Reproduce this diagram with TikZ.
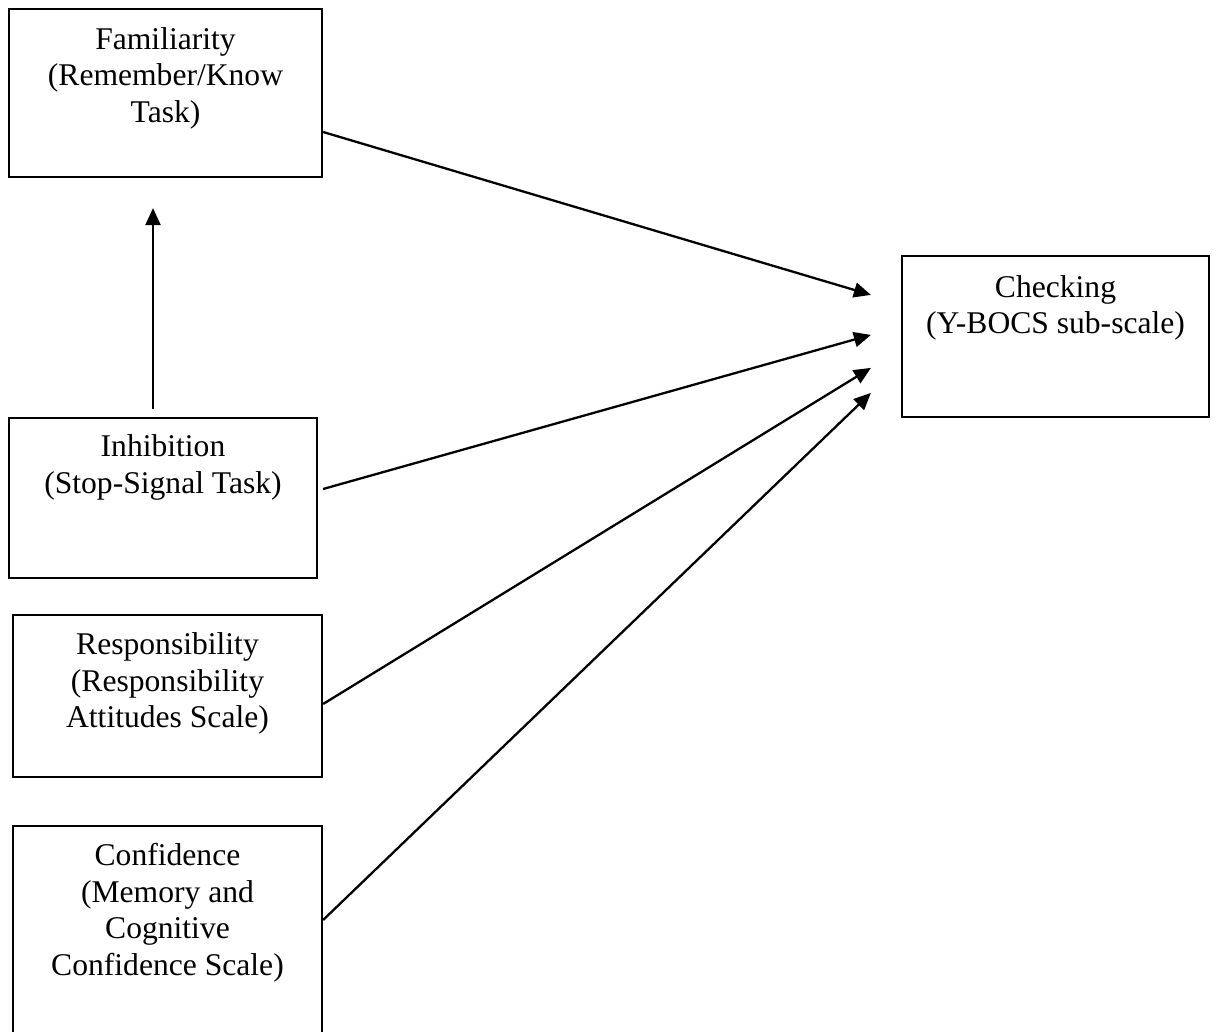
\documentclass[tikz,border=0pt]{standalone}
\usepackage{fontspec}
\setmainfont{Liberation Serif}
\usetikzlibrary{arrows.meta,calc}

\tikzset{
  box/.style={draw=black, line width=2.2pt, rectangle, inner sep=0pt, fill=none},
  boxtext/.style={anchor=north, align=center, inner sep=0pt,
    font=\fontsize{31.6}{36.5}\selectfont},
  link/.style={line width=2.3pt, -{Triangle[length=17pt,width=15pt]}}
}

\begin{document}
\begin{tikzpicture}[x=1pt,y=-1pt]
  \useasboundingbox (0,0) rectangle (1216,1032);
  \clip (0,0) rectangle (1216,1032);
  \fill[white] (0,0) rectangle (1216,1032);

  % boxes
  \node[box, minimum width=313pt, minimum height=168pt] (fam)  at (165.5,93)   {};
  \node[box, minimum width=307pt, minimum height=161pt] (chk)  at (1055.5,336.5) {};
  \node[box, minimum width=308pt, minimum height=160pt] (inh)  at (163,498)    {};
  \node[box, minimum width=309pt, minimum height=162pt] (resp) at (167.5,696)  {};
  \node[box, minimum width=309pt, minimum height=240pt] (conf) at (167.5,946)  {};

  % box texts
  \node[boxtext] (famtxt)  at ($(fam.north)+(0,19.4)$)  {Familiarity\\(Remember/Know\\Task)};
  \node[boxtext] (chktxt)  at ($(chk.north)+(0,20.4)$)  {Checking\\(Y-BOCS sub-scale)};
  \node[boxtext] (inhtxt)  at ($(inh.north)+(0,17.8)$)  {Inhibition\\(Stop-Signal Task)};
  \node[boxtext] (resptxt) at ($(resp.north)+(0,18.6)$) {Responsibility\\(Responsibility\\Attitudes Scale)};
  \node[boxtext] (conftxt) at ($(conf.north)+(0,18.6)$) {Confidence\\(Memory and\\Cognitive\\Confidence Scale)};

  % arrow tips, short of the Checking box
  \coordinate (t1) at ($(chk.north west)+(-30,40)$);
  \coordinate (t2) at ($(chk.north west)+(-30,80)$);
  \coordinate (t3) at ($(chk.north west)+(-30,113)$);
  \coordinate (t4) at ($(chk.north west)+(-30,138)$);

  % connectors
  \draw[link] ($(fam.east)+(0,39)$)  -- (t1);
  \draw[link] ($(inh.east)+(5,-9)$)  -- (t2);
  \draw[link] ($(resp.east)+(0,8)$)  -- (t3);
  \draw[link] ($(conf.west -| resp.east)+(0,-26)$) -- (t4);
  \draw[link] ($(inh.north)+(-10,-8)$) -- ($(fam.south)+(-12.5,30)$);
\end{tikzpicture}
\end{document}
